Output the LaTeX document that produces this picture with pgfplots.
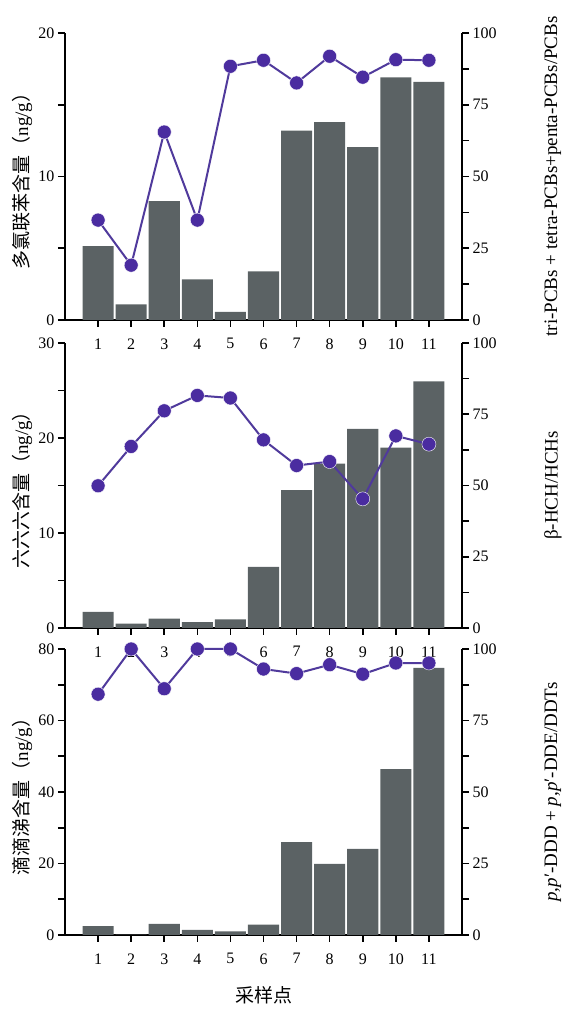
\documentclass[border=0pt]{standalone}
\usepackage{fontspec}
\setmainfont{Liberation Serif}
\newfontfamily\cjk{Noto Sans CJK SC}
\usepackage{pgfplots}
\pgfplotsset{compat=1.18}

\definecolor{barcol}{RGB}{91,98,100}
\definecolor{linecol}{RGB}{80,58,156}
\definecolor{markcol}{RGB}{74,44,160}

\pgfplotsset{
  base/.style={
    width=397bp, scale only axis,
    xmin=0, xmax=12, xtick={1,...,11},
    tick align=outside, major tick length=7bp, minor tick length=7bp,
    axis line style={line width=1.6bp},
    every tick/.style={black, line width=1.6bp},
    tick label style={font=\fontsize{16bp}{18bp}\selectfont},
    xticklabel style={yshift=-8bp},
    label style={font=\fontsize{19bp}{21bp}\selectfont},
    /pgf/number format/assume math mode=true,
  },
  leftax/.style={base,
    axis y line*=left, axis x line*=bottom,
    minor y tick num=1,
    ylabel style={at={(axis description cs:-0.108,0.5)}, anchor=center},
  },
  rightax/.style={base,
    axis y line*=right, axis x line=none,
    ymin=0, ymax=100, ytick={0,25,50,75,100}, minor y tick num=1,
    clip=false,
    ylabel style={at={(axis description cs:1.229,0.5)}, anchor=center, rotate=0},
  },
  barsty/.style={ybar, bar width=0.94, fill=barcol, draw=none},
  linesty/.style={color=linecol, line width=2bp, mark=*, mark size=7bp,
    mark options={fill=markcol, draw=white, line width=0.4bp}},
}

\begin{document}
\begin{tikzpicture}
\useasboundingbox (0,0) rectangle (568bp,1013bp);

% PCBs
\begin{axis}[leftax, at={(65bp,693bp)}, height=287bp, ymin=0, ymax=20, ytick={0,10,20},
  ylabel={{\cjk 多氯联苯含量（}ng/g{\cjk ）}}]
\addplot[barsty] coordinates {(1,5.15)(2,1.09)(3,8.28)(4,2.83)(5,0.56)(6,3.39)(7,13.2)(8,13.78)(9,12.04)(10,16.9)(11,16.6)};
\end{axis}
\begin{axis}[rightax, at={(65bp,693bp)}, height=287bp,
  ylabel={tri-PCBs + tetra-PCBs+penta-PCBs/PCBs}]
\addplot[linesty] coordinates {(1,34.8)(2,19.1)(3,65.5)(4,34.8)(5,88.4)(6,90.5)(7,82.6)(8,91.9)(9,84.6)(10,90.7)(11,90.5)};
\end{axis}

% HCHs
\begin{axis}[leftax, at={(65bp,385bp)}, height=285bp, ymin=0, ymax=30, ytick={0,10,20,30},
  ylabel={{\cjk 六六六含量（}ng/g{\cjk ）}}]
\addplot[barsty] coordinates {(1,1.69)(2,0.46)(3,0.98)(4,0.63)(5,0.91)(6,6.44)(7,14.5)(8,17.3)(9,20.96)(10,18.99)(11,25.96)};
\end{axis}
\begin{axis}[rightax, at={(65bp,385bp)}, height=285bp,
  ylabel={β-HCH/HCHs}]
\addplot[linesty] coordinates {(1,49.9)(2,63.7)(3,76.2)(4,81.6)(5,80.7)(6,66.0)(7,57.0)(8,58.4)(9,45.3)(10,67.4)(11,64.5)};
\end{axis}

% DDTs
\begin{axis}[leftax, at={(65bp,78bp)}, height=286bp, ymin=0, ymax=80, ytick={0,20,40,60,80},
  ylabel={{\cjk 滴滴涕含量（}ng/g{\cjk ）}},
  xlabel={\cjk 采样点},
  xlabel style={at={(axis description cs:0.5,0)}, yshift=-60bp, anchor=center}]
\addplot[barsty] coordinates {(1,2.5)(2,0.1)(3,3.1)(4,1.4)(5,1.0)(6,2.9)(7,26.0)(8,19.9)(9,24.1)(10,46.4)(11,74.7)};
\end{axis}
\begin{axis}[rightax, at={(65bp,78bp)}, height=286bp,
  ylabel={\textit{p,p}′-DDD + \textit{p,p}′-DDE/DDTs}]
\addplot[linesty] coordinates {(1,84.2)(2,100)(3,86.1)(4,100)(5,100)(6,93.0)(7,91.4)(8,94.5)(9,91.2)(10,95.1)(11,95.1)};
\end{axis}
\end{tikzpicture}
\end{document}
